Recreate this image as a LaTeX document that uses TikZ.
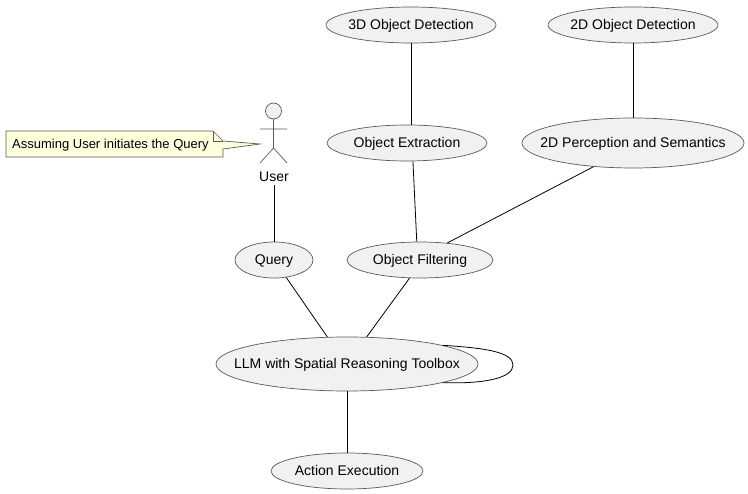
\documentclass[tikz,border=0pt]{standalone}
\usepackage{fontspec}
\setmainfont{Liberation Sans}
\usetikzlibrary{shapes.geometric}

\definecolor{usecase_fill}{HTML}{F1F1F1}
\definecolor{usecase_line}{HTML}{5A5A5A}
\definecolor{note_fill}{HTML}{FEFFDD}

% the ellipse size comes from the style keys, not from the text
\newcommand{\uclabel}[1]{\makebox[0pt]{\raisebox{-5pt}[0pt][0pt]{#1}}}

\tikzset{
  usecase/.style={ellipse, draw=usecase_line, fill=usecase_fill, line width=0.7pt,
    inner sep=0pt, text=black, font=\fontsize{14}{16}\selectfont},
  link/.style={draw=black, line width=0.8pt},
  actorline/.style={draw=usecase_line, line width=0.7pt},
}

\begin{document}
\begin{tikzpicture}[x=1pt,y=-1pt]
    \useasboundingbox (0,0) rectangle (748,494);

    \node[usecase, minimum width=170pt, minimum height=36pt]
      (det3d) at (411,25) {\uclabel{3D Object Detection}};
    \node[usecase, minimum width=170pt, minimum height=36pt]
      (det2d) at (633,25) {\uclabel{2D Object Detection}};
    \node[usecase, minimum width=160pt, minimum height=36pt]
      (extract) at (407,143) {\uclabel{Object Extraction}};
    \node[usecase, minimum width=222pt, minimum height=50pt]
      (percept) at (633,143) {\uclabel{2D Perception and Semantics}};
    \node[usecase, minimum width=78pt, minimum height=36pt]
      (query) at (274,260) {\uclabel{Query}};
    \node[usecase, minimum width=146pt, minimum height=36pt]
      (filter) at (420,260) {\uclabel{Object Filtering}};
    \node[usecase, minimum width=262pt, minimum height=54pt]
      (llm) at (347,364) {\uclabel{LLM with Spatial Reasoning Toolbox}};
    \node[usecase, minimum width=152pt, minimum height=36pt]
      (action) at (347,471) {\uclabel{Action Execution}};

    % actor
    \draw[actorline, fill=usecase_fill] (273.5,111) circle (8);
    \draw[actorline] (273.5,119) -- (273.5,148)
      (260,129) -- (287,129)
      (260,163) -- (273.5,148) -- (287,163);
    \node[text=black, font=\fontsize{14}{16}\selectfont] (user) at (274,177) {User};

    % note
    \draw[draw=usecase_line, fill=note_fill, line width=0.7pt]
      (6,131) -- (213,131) -- (223,141) -- (260,144) -- (223,149)
      -- (223,157) -- (6,157) -- cycle;
    \draw[draw=usecase_line, line width=0.7pt] (213,131) -- (213,141) -- (223,141);
    \node[anchor=west, inner sep=0pt, text=black, font=\fontsize{13}{15}\selectfont]
      (note) at (12,145.5) {Assuming User initiates the Query};

    \draw[link] (det3d.south) -- (det3d.south |- extract.north);
    \draw[link] (det2d) -- (percept);
    \draw[link] (user.south) -- (query.north);
    \draw[link] (extract.-72) -- (filter.100);
    \draw[link] (percept.211) -- (filter.32);
    \draw[link] (query.-55) -- (llm.126);
    \draw[link] (filter.240) -- (llm.54);
    \draw[link] (llm.south) -- (action.north);
    \draw[link] (llm.11) .. controls (485,348) and (513,352) .. (513,365)
      .. controls (513,378) and (485,384) .. (llm.-11);
\end{tikzpicture}
\end{document}
